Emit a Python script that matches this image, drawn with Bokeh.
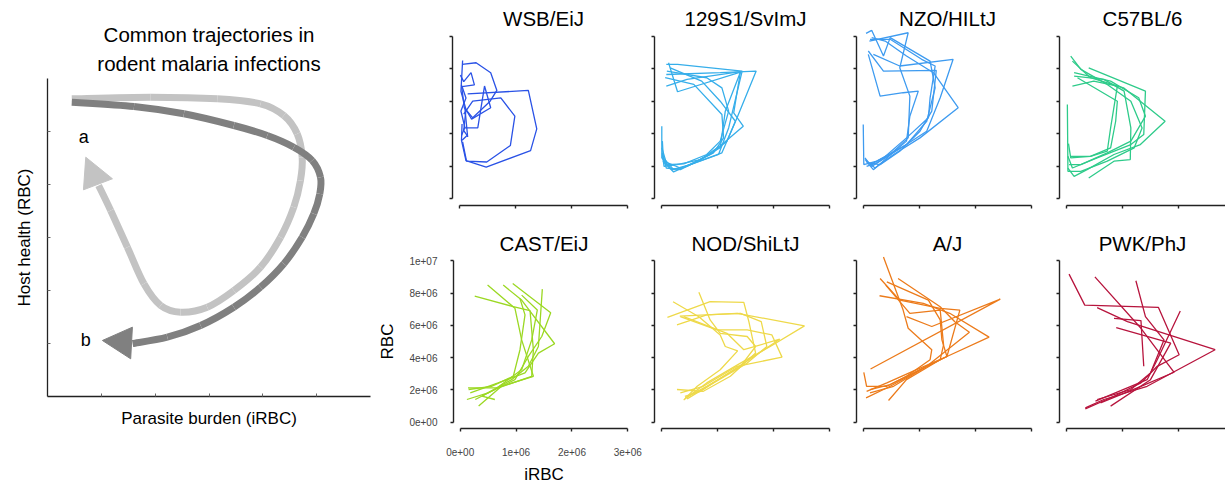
from bokeh.plotting import figure
from bokeh.layouts import row, column
from bokeh.models import Range1d, FixedTicker, Title
from bokeh.core.properties import value
from bokeh.embed import file_html
from bokeh.resources import INLINE

FONT = "Liberation Sans"

# ---------------- data (iRBC and RBC in millions) ----------------
strains = ["WSB/EiJ", "129S1/SvImJ", "NZO/HILtJ", "C57BL/6",
           "CAST/EiJ", "NOD/ShiLtJ", "A/J", "PWK/PhJ"]
colors = ["#2a52e6", "#36aeea", "#3e9bf0", "#2ecb8a",
          "#9bd823", "#eed94a", "#ec7b1b", "#b7143d"]

wsb_x = [[0.15, 1.23, 1.38, 1.27, 0.48, 0.12, 0.04, 0.05],
         [0.08, 0.24, 0.74, 0.99, 0.91, 0.49, 0.13, 0.06],
         [0.05, 0.30, 0.56, 0.67, 0.55, 0.24, 0.09, 0.04],
         [0.02, 0.08, 0.21, 0.27, 0.05, 0.12, 0.03, 0.10, 0.04],
         [0.10, 0.33, 0.45, 0.56, 0.22, 0.10, 0.15],
         [0.06, 0.03, 0.12, 0.08, 0.14, 0.05]]
wsb_y = [[6.45, 6.66, 4.30, 2.97, 1.95, 2.36, 3.60, 4.60],
         [5.20, 6.00, 6.21, 5.08, 3.28, 2.27, 2.32, 3.50],
         [8.26, 8.36, 7.75, 6.66, 6.00, 4.98, 5.60, 7.00],
         [7.60, 7.20, 7.75, 7.00, 6.90, 6.20, 5.40, 4.40, 3.90],
         [4.36, 4.36, 6.93, 5.60, 4.90, 5.60, 3.80],
         [8.50, 6.60, 5.50, 4.20, 3.90, 3.60]]

s129_x = [[0.09, 0.29, 1.44, 1.20, 1.02, 0.52, 0.19, 0.01, 0.01],
          [0.09, 1.05, 1.69, 1.35, 1.08, 0.34, 0.04, 0.02],
          [0.13, 0.29, 1.41, 1.14, 1.05, 0.64, 0.22, 0.03],
          [0.09, 0.46, 1.41, 1.29, 1.46, 1.08, 0.70, 0.28, 0.05, 0.02],
          [0.10, 0.81, 1.08, 1.20, 1.05, 0.81, 0.40, 0.10, 0.01],
          [0.07, 0.58, 1.08, 1.11, 0.93, 0.46, 0.22, 0.04],
          [0.16, 0.72, 1.05, 1.32, 1.17, 0.87, 0.34, 0.09, 0.02]]
s129_y = [[8.26, 8.26, 7.85, 4.36, 2.73, 2.11, 1.80, 2.52, 4.47],
          [7.64, 7.75, 7.85, 4.98, 2.83, 1.90, 2.32, 3.55],
          [8.36, 6.58, 7.79, 5.39, 3.14, 2.32, 1.66, 2.32],
          [6.93, 7.34, 7.81, 5.29, 4.47, 3.34, 2.42, 2.11, 2.00, 2.83],
          [7.85, 7.44, 6.82, 5.39, 3.55, 2.73, 2.15, 2.11, 3.14],
          [7.44, 7.03, 5.18, 3.75, 2.83, 2.00, 1.80, 2.52],
          [8.05, 7.23, 6.00, 4.77, 3.55, 2.73, 1.80, 1.90, 2.73]]

nzo_x = [[0.05, 0.15, 0.36, 0.48, 1.19, 1.28, 1.13, 0.77, 0.24, 0.01, 0.00],
         [0.11, 0.80, 0.65, 0.83, 0.80, 0.48, 0.15, 0.03],
         [0.09, 0.36, 1.30, 1.22, 1.01, 0.65, 0.30, 0.09],
         [0.09, 0.30, 0.71, 0.98, 0.83, 0.77, 0.42, 0.18, 0.05],
         [0.12, 0.48, 1.04, 1.28, 1.19, 1.16, 0.77, 0.36, 0.12],
         [0.18, 0.65, 1.60, 1.37, 1.13, 0.68, 0.24, 0.06],
         [0.15, 0.39, 0.77, 1.25, 1.69, 1.01, 0.54, 0.21, 0.03]]
nzo_y = [[10.16, 10.35, 8.77, 9.90, 8.46, 6.82, 4.77, 3.34, 2.32, 2.11, 4.57],
         [9.69, 10.20, 8.05, 6.31, 3.75, 2.73, 2.00, 2.52],
         [9.08, 7.85, 7.89, 5.39, 4.16, 2.93, 2.11, 2.21],
         [8.87, 6.31, 6.52, 6.62, 5.08, 3.55, 2.52, 1.80, 2.32],
         [9.80, 9.80, 8.57, 8.16, 6.21, 4.98, 3.75, 2.52, 2.11],
         [8.87, 8.16, 8.57, 6.21, 4.16, 3.14, 2.21, 2.00],
         [9.90, 9.69, 8.77, 7.75, 5.60, 3.75, 2.73, 1.90, 2.42]]

c57_x = [[0.08, 0.26, 0.73, 1.15, 1.35, 1.21, 0.73, 0.26, 0.03, 0.02],
         [0.40, 1.41, 1.38, 1.15, 0.55, 0.11, 0.03],
         [0.11, 0.43, 1.02, 1.76, 1.32, 0.85, 0.37, 0.14, 0.03],
         [0.11, 0.49, 0.91, 0.79, 0.73, 0.43, 0.08],
         [0.14, 0.67, 1.03, 1.15, 1.14, 0.85, 0.40],
         [0.14, 0.79, 1.29, 1.41, 1.15, 0.73, 0.26, 0.05],
         [0.20, 0.91, 0.88, 0.79, 0.43, 0.08, 0.04]]
c57_y = [[8.77, 7.95, 7.03, 6.00, 4.36, 3.14, 2.32, 1.70, 1.70, 5.80],
         [8.05, 6.62, 3.96, 3.34, 2.52, 1.90, 2.62],
         [8.46, 7.44, 6.82, 4.77, 3.34, 2.73, 1.80, 1.39, 1.90],
         [6.93, 7.23, 6.93, 4.36, 2.93, 2.62, 2.62],
         [7.54, 7.34, 6.62, 4.36, 2.42, 2.32, 1.29],
         [7.75, 7.23, 6.21, 5.08, 3.55, 2.83, 2.11, 2.11],
         [7.44, 6.00, 4.77, 3.14, 2.62, 2.52, 3.40]]

cast_x = [[0.26, 0.95, 1.25, 1.31, 1.28, 0.68, 0.14],
          [0.49, 0.98, 1.10, 1.31, 0.74, 0.33],
          [0.77, 1.10, 1.69, 1.40, 1.16, 0.68, 0.18],
          [0.94, 1.62, 1.46, 1.22, 0.98, 0.50, 0.12],
          [1.10, 1.38, 1.28, 1.10, 0.62, 0.27],
          [1.47, 1.40, 1.22, 0.92, 0.39, 0.62],
          [1.07, 1.16, 1.07, 0.95, 0.56, 0.15]]
cast_y = [[7.82, 7.16, 6.91, 4.49, 2.84, 2.12, 2.12],
          [8.50, 7.06, 5.10, 2.84, 2.22, 0.99],
          [8.50, 7.57, 4.86, 4.28, 3.05, 2.43, 1.81],
          [8.60, 6.79, 5.31, 4.07, 2.63, 1.81, 1.40],
          [7.88, 6.95, 5.10, 3.25, 2.02, 1.40],
          [8.25, 4.69, 3.46, 2.63, 1.61, 1.40],
          [7.67, 6.65, 4.49, 2.84, 2.22, 2.02]]

nod_x = [[0.11, 0.87, 1.47, 1.56, 1.68, 1.23, 0.75, 0.28],
         [0.21, 0.67, 1.05, 1.14, 1.36, 1.05, 0.64, 0.40],
         [0.67, 0.87, 1.05, 1.53, 1.68, 1.41, 0.81, 0.43],
         [0.28, 0.81, 1.41, 1.78, 1.88, 1.53, 0.93, 0.46],
         [0.33, 1.35, 2.55, 1.94, 1.41, 0.81, 0.42],
         [0.34, 0.99, 1.53, 1.97, 2.15, 1.35, 0.75, 0.34],
         [0.40, 1.17, 1.47, 2.11, 1.65, 1.11, 0.70, 0.42]]
nod_y = [[6.50, 7.47, 7.43, 6.23, 4.28, 2.84, 1.91, 2.02],
         [7.47, 6.54, 5.41, 4.69, 4.42, 3.25, 2.22, 1.36],
         [8.05, 6.34, 5.51, 5.31, 4.69, 3.46, 2.22, 1.50],
         [6.03, 6.65, 6.75, 6.23, 4.69, 3.66, 2.43, 1.44],
         [6.58, 6.75, 5.97, 4.69, 3.66, 2.43, 1.44],
         [6.54, 5.72, 5.72, 5.41, 4.03, 3.46, 2.22, 1.81],
         [6.54, 5.51, 4.49, 5.14, 4.07, 2.84, 1.91, 1.60]]

aj_x = [[0.36, 0.71, 0.80, 1.22, 1.19, 0.77, 0.42, 0.06, 0.01],
        [0.30, 0.65, 1.37, 1.72, 1.49, 1.13, 0.48, 0.05],
        [0.42, 1.16, 1.37, 1.40, 1.49, 1.01, 0.48, 0.12],
        [0.62, 1.37, 1.63, 1.89, 1.13, 0.54, 0.12],
        [0.29, 1.07, 1.54, 2.24, 1.49, 0.95, 0.42, 0.06],
        [0.40, 0.83, 1.37, 1.43, 1.37, 0.77, 0.45],
        [0.77, 1.22, 2.44, 0.13]]
aj_y = [[10.25, 6.95, 5.82, 4.49, 3.87, 2.84, 2.22, 2.22, 3.09],
        [8.91, 7.57, 7.06, 6.95, 4.07, 3.46, 2.22, 1.50],
        [8.70, 7.57, 6.34, 5.10, 4.07, 3.25, 2.33, 2.02],
        [8.91, 7.16, 6.23, 5.58, 3.46, 2.22, 1.81],
        [7.84, 7.37, 6.75, 5.27, 4.07, 3.25, 2.43, 1.91],
        [8.50, 6.75, 6.95, 4.79, 3.87, 2.63, 1.34],
        [6.54, 5.93, 7.63, 3.29]]

pwk_x = [[0.05, 0.33, 1.64, 2.01, 1.62, 1.33, 0.85, 0.34],
         [0.51, 1.33, 1.92, 1.33, 0.61],
         [1.24, 1.41, 1.74, 1.50, 1.15, 0.55],
         [0.55, 1.09, 2.65, 1.44, 0.67, 0.34],
         [0.85, 1.33, 1.38],
         [0.89, 1.86, 1.50, 0.79],
         [2.03, 1.62, 1.44, 0.52]]
pwk_y = [[9.18, 7.26, 7.12, 4.18, 3.46, 2.43, 1.60, 0.82],
         [9.01, 5.82, 3.09, 2.22, 1.19],
         [8.77, 6.54, 5.10, 3.05, 2.02, 1.40],
         [7.10, 6.23, 4.49, 2.22, 1.40, 0.88],
         [6.44, 6.30, 3.46],
         [5.86, 4.90, 2.63, 0.99],
         [6.89, 3.87, 2.63, 1.30]]

xs_all = [wsb_x, s129_x, nzo_x, c57_x, cast_x, nod_x, aj_x, pwk_x]
ys_all = [wsb_y, s129_y, nzo_y, c57_y, cast_y, nod_y, aj_y, pwk_y]

x_ticks = [0, 1, 2, 3]
y_ticks = [0, 2, 4, 6, 8, 10]
x_tick_labels = ["0e+00", "1e+06", "2e+06", "3e+06"]
y_tick_labels = ["0e+00", "2e+06", "4e+06", "6e+06", "8e+06", "1e+07"]

# schematic (unit grid 0..6 on both axes), traced guide points of the two arrows
light_u = [0.451, 1.917, 3.154, 3.957, 4.390, 4.638, 4.731, 4.699, 4.575, 4.329,
           3.957, 3.462, 2.968, 2.473, 2.102, 1.792, 1.484, 1.174, 0.95]
light_v = [5.617, 5.647, 5.617, 5.523, 5.302, 4.957, 4.515, 4.075, 3.572, 3.006,
           2.440, 2.000, 1.685, 1.591, 1.717, 2.126, 2.817, 3.509, 3.98]
light_head_u = [0.711, 0.668, 1.206]
light_head_v = [4.515, 3.900, 4.108]
dark_u = [0.451, 1.607, 2.534, 3.462, 4.082, 4.575, 4.917, 5.071, 5.058, 4.946,
          4.731, 4.390, 3.957, 3.462, 2.844, 2.226, 1.58]
dark_v = [5.553, 5.472, 5.334, 5.113, 4.925, 4.704, 4.453, 4.138, 3.825, 3.447,
          3.006, 2.504, 2.062, 1.685, 1.340, 1.119, 1.00]
dark_head_u = [1.020, 1.577, 1.545]
dark_head_v = [1.057, 1.308, 0.711]
label_text = ["a", "b"]
label_u = [0.674, 0.711]
label_v = [4.887, 1.057]


def bezier_segments(u, v):
    """Smooth path through guide points (Catmull-Rom expressed as cubic Beziers)."""
    n = len(u)
    seg = dict(x0=[], y0=[], x1=[], y1=[], cx0=[], cy0=[], cx1=[], cy1=[])
    for i in range(n - 1):
        a = max(i - 1, 0)
        b = min(i + 2, n - 1)
        seg["x0"].append(u[i]); seg["y0"].append(v[i])
        seg["x1"].append(u[i + 1]); seg["y1"].append(v[i + 1])
        seg["cx0"].append(u[i] + (u[i + 1] - u[a]) / 6)
        seg["cy0"].append(v[i] + (v[i + 1] - v[a]) / 6)
        seg["cx1"].append(u[i + 1] - (u[b] - u[i]) / 6)
        seg["cy1"].append(v[i + 1] - (v[b] - v[i]) / 6)
    return seg


def style_axis(ax, width_line=1.4):
    ax.axis_line_color = "#222222"
    ax.axis_line_width = width_line
    ax.major_tick_line_color = "#222222"
    ax.major_tick_line_width = width_line
    ax.minor_tick_line_color = None
    ax.major_label_text_font = FONT
    ax.axis_label_text_font = FONT
    ax.axis_label_text_font_style = "normal"
    ax.axis_label_text_color = "black"


def blank_labels(ax, ticks):
    ax.major_label_overrides = {t: "" for t in ticks}
    ax.major_label_text_font_size = "10px"
    ax.major_label_standoff = 0


def make_panel(i, left, frame_w, right, top, frame_h, bottom, x_end, labeled):
    p = figure(width=left + frame_w + right, height=top + frame_h + bottom,
               x_range=Range1d(-0.12, x_end), y_range=Range1d(-0.4, 10.4),
               output_backend="svg", toolbar_location=None,
               min_border_left=left, min_border_right=right,
               min_border_top=top, min_border_bottom=bottom,
               title=strains[i])
    p.title.align = "center"
    p.title.text_font = FONT
    p.title.text_font_size = "20.5px"
    p.title.text_font_style = "normal"
    p.title.text_color = "black"
    p.title.standoff = 0
    p.grid.visible = False
    p.outline_line_color = None
    p.multi_line(xs=xs_all[i], ys=ys_all[i], line_color=colors[i], line_width=1.3)
    p.xaxis.ticker = FixedTicker(ticks=x_ticks)
    p.yaxis.ticker = FixedTicker(ticks=y_ticks)
    p.xaxis.bounds = (x_ticks[0], x_ticks[-1])
    p.yaxis.bounds = (y_ticks[0], y_ticks[-1])
    for ax in (p.xaxis[0], p.yaxis[0]):
        style_axis(ax)
        ax.major_tick_out = 3
        ax.major_tick_in = 0
    if labeled:
        p.xaxis.major_label_overrides = dict(zip(x_ticks, x_tick_labels))
        p.yaxis.major_label_overrides = dict(zip(y_ticks, y_tick_labels))
        p.xaxis.major_label_text_font_size = "10px"
        p.yaxis.major_label_text_font_size = "10px"
        p.xaxis.major_label_standoff = 16
        p.yaxis.major_label_standoff = 13
        p.xaxis.axis_label = "iRBC"
        p.yaxis.axis_label = "RBC"
        p.xaxis.axis_label_text_font_size = "17px"
        p.yaxis.axis_label_text_font_size = "17px"
        p.xaxis.axis_label_standoff = 6
        p.yaxis.axis_label_standoff = 9
    else:
        blank_labels(p.xaxis[0], x_ticks)
        blank_labels(p.yaxis[0], y_ticks)
    return p


FW = 182
scale = FW / 3.24
x_end_last = -0.12 + 166 / scale

top_row = [
    make_panel(0, 77, FW, 10, 29, 176, 17, 3.12, False),
    make_panel(1, 10, FW, 10, 29, 176, 17, 3.12, False),
    make_panel(2, 10, FW, 11, 29, 176, 17, 3.12, False),
    make_panel(3, 10, 166, 0, 29, 176, 17, x_end_last, False),
]
bottom_row = [
    make_panel(4, 77, FW, 10, 32, 175, 57, 3.12, True),
    make_panel(5, 10, FW, 10, 32, 175, 57, 3.12, False),
    make_panel(6, 10, FW, 11, 32, 175, 57, 3.12, False),
    make_panel(7, 10, 166, 0, 32, 175, 57, x_end_last, False),
]

# ---------------- schematic ----------------
s = figure(width=375, height=486, x_range=Range1d(0, 6), y_range=Range1d(0, 6),
           output_backend="svg", toolbar_location=None,
           min_border_left=47, min_border_right=5, min_border_top=78, min_border_bottom=90,
           title="Common trajectories in")
s.title.align = "center"
s.title.text_font = FONT
s.title.text_font_size = "20.5px"
s.title.text_font_style = "normal"
s.title.text_color = "black"
s.title.standoff = 0
t2 = Title(text="rodent malaria infections", align="center", text_font=FONT,
           text_font_size="20.5px", text_font_style="normal", text_color="black",
           standoff=8)
s.add_layout(t2, "above")
s.grid.visible = False
s.outline_line_color = None
s.xaxis.ticker = FixedTicker(ticks=[1, 2, 3, 4, 5])
s.yaxis.ticker = FixedTicker(ticks=[1, 2, 3, 4, 5])
for ax in (s.xaxis[0], s.yaxis[0]):
    style_axis(ax, 1.3)
    ax.major_tick_out = 0
    ax.major_tick_in = 3
    ax.major_tick_line_color = "#666666"
    ax.major_tick_line_width = 1
    blank_labels(ax, [1, 2, 3, 4, 5])
    ax.axis_label_text_font_size = "17px"
s.xaxis.axis_label = "Parasite burden (iRBC)"
s.yaxis.axis_label = "Host health (RBC)"
s.xaxis.axis_label_standoff = 12
s.yaxis.axis_label_standoff = 14

s.bezier(**bezier_segments(light_u, light_v), line_color="#c3c3c3",
         line_width=7, line_cap="butt")
s.patch(light_head_u, light_head_v, fill_color="#c3c3c3", line_color="#c3c3c3", line_width=1)
s.bezier(**bezier_segments(dark_u, dark_v), line_color="#808080", line_width=7, line_cap="butt")
s.patch(dark_head_u, dark_head_v, fill_color="#808080", line_color="#808080", line_width=1)
s.text(x=label_u, y=label_v, text=label_text, text_font=value(FONT), text_font_size="18px",
       text_align="center", text_baseline="middle", text_color="black")

layout = row(s, column(row(*top_row), row(*bottom_row)))

with open("out.html", "w") as f:
    f.write(file_html(layout, INLINE))
